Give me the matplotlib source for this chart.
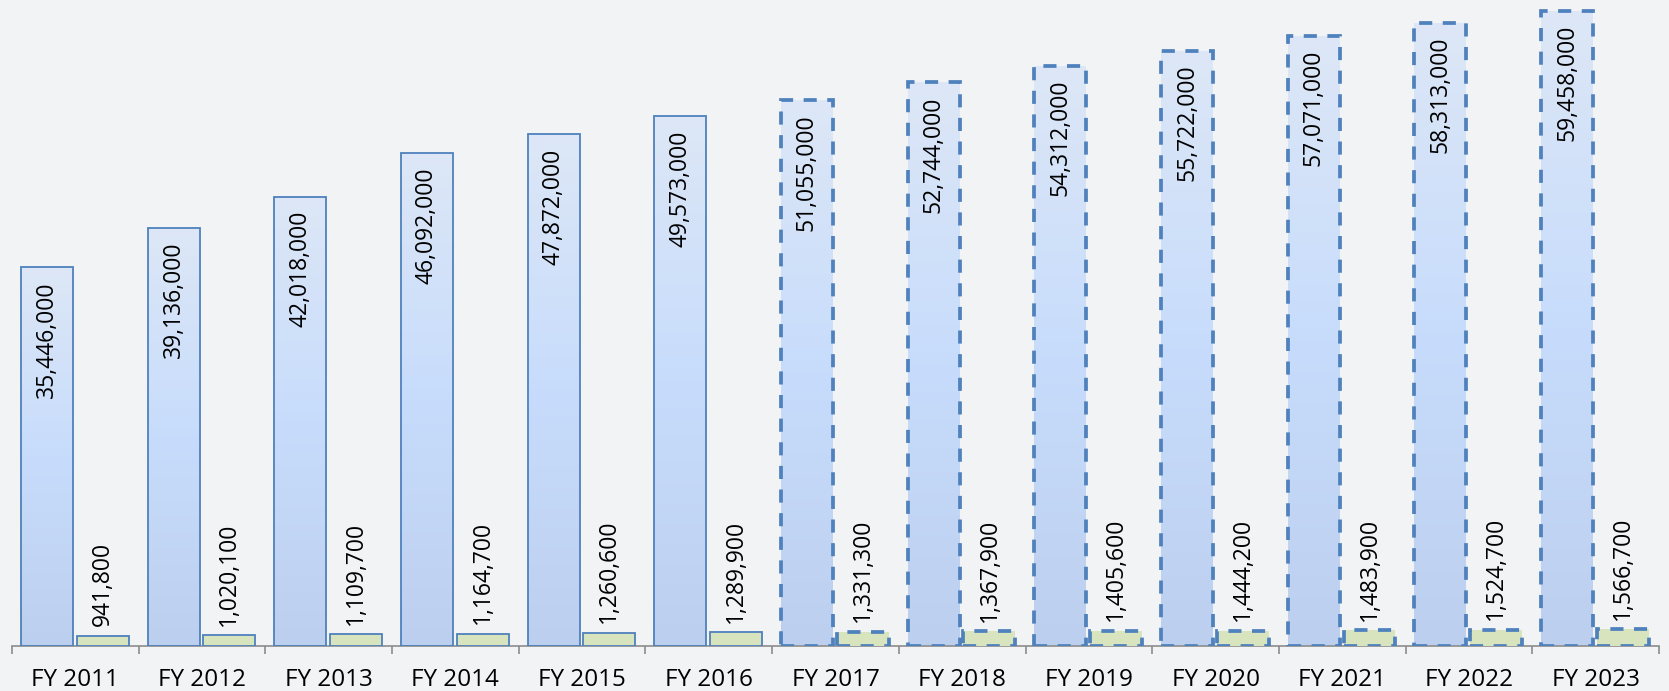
import numpy as np
import matplotlib.pyplot as plt
from matplotlib.patches import Rectangle
from matplotlib.colors import LinearSegmentedColormap

# Datos
years = ['FY 2011', 'FY 2012', 'FY 2013', 'FY 2014', 'FY 2015', 'FY 2016', 'FY 2017',
         'FY 2018', 'FY 2019', 'FY 2020', 'FY 2021', 'FY 2022', 'FY 2023']
big_vals = [35446000, 39136000, 42018000, 46092000, 47872000, 49573000, 51055000,
            52744000, 54312000, 55722000, 57071000, 58313000, 59458000]
small_vals = [941800, 1020100, 1109700, 1164700, 1260600, 1289900, 1331300,
              1367900, 1405600, 1444200, 1483900, 1524700, 1566700]
first_projected = 6   # desde FY 2017 las barras son proyecciones (borde punteado)

bg = '#F2F3F5'
edge = '#4F81BD'
plt.rcParams['font.family'] = ['Open Sans', 'DejaVu Sans']

fig = plt.figure(figsize=(16.69, 6.91), dpi=100, facecolor=bg)
ax = fig.add_axes([0.0072, 0.065, 0.9868, 0.935])
ax.set_facecolor(bg)
ax.set_xlim(0, 13)
ax.set_ylim(0, 60.45e6)

cmap = LinearSegmentedColormap.from_list('azul', ['#BDCFEE', '#C7DCFC', '#DDE7F6'])
grad = np.linspace(0, 1, 256).reshape(-1, 1)

bw = 0.41
for i, (b, s) in enumerate(zip(big_vals, small_vals)):
    dashed = i >= first_projected
    ls = (0, (3.5, 2.8)) if dashed else '-'
    lw = 2.7 if dashed else 1.3

    x0 = i + 0.07
    rect = Rectangle((x0, 0), bw, b, facecolor='none', edgecolor=edge, lw=lw, ls=ls, zorder=3)
    ax.add_patch(rect)
    im = ax.imshow(grad, cmap=cmap, origin='lower', aspect='auto',
                   extent=(x0, x0 + bw, 0, b), zorder=2)
    im.set_clip_path(rect)
    ax.text(x0 + bw / 2, b - 1.3e6, f'{b:,}', rotation=90, ha='center', va='top',
            fontsize=16.5, color='black', zorder=4)

    x1 = i + 0.51
    ax.add_patch(Rectangle((x1, 0), bw, s, facecolor='#D7E4BD', edgecolor=edge,
                           lw=lw, ls=ls, zorder=3))
    ax.text(x1 + bw / 2, s + 0.9e6, f'{s:,}', rotation=90, ha='center', va='bottom',
            fontsize=16.5, color='black', zorder=4)

ax.set_xticks(np.arange(0, 14))
ax.set_xticklabels([])
ax.set_xticks(np.arange(13) + 0.5, minor=True)
ax.set_xticklabels(years, minor=True, fontsize=17.5)
ax.tick_params(axis='x', which='major', length=6, color='#8C8C8C', width=1.2)
ax.tick_params(axis='x', which='minor', length=0, pad=16)
ax.set_yticks([])
for sp in ['left', 'right', 'top']:
    ax.spines[sp].set_visible(False)
ax.spines['bottom'].set_color('#8C8C8C')
ax.spines['bottom'].set_linewidth(1.2)

plt.savefig('out.png', dpi=100, facecolor=bg)
